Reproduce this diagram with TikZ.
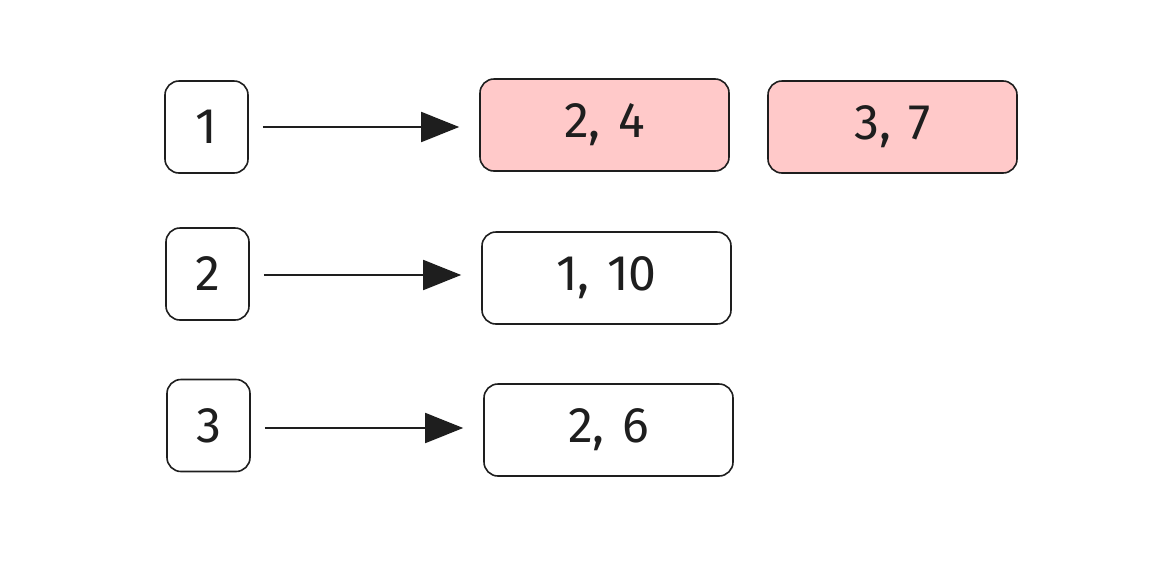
\documentclass[tikz,border=0pt]{standalone}
\usepackage{fontspec}
\setmainfont{Fira Sans}
\usetikzlibrary{arrows.meta}
\definecolor{ink}{HTML}{1E1E1E}
\definecolor{pinkfill}{HTML}{FFC9C9}
\tikzset{
  box/.style={draw=ink, line width=1.6pt, rounded corners=14pt, text=ink, inner sep=0pt,
    font=\fontsize{50}{54}\selectfont},
  keybox/.style={box, minimum width=83pt, minimum height=92pt},
  valbox/.style={box, minimum width=249pt, minimum height=92pt},
  hl/.style={fill=pinkfill},
  arr/.style={draw=ink, line width=1.8pt, -{Triangle[length=38pt,width=30pt]}, shorten <=14pt, shorten >=20pt}
}
\newcommand{\gap}{\hspace{0.35em}}
\begin{document}
\begin{tikzpicture}[x=1pt,y=-1pt]
\useasboundingbox (0,0) rectangle (1172,563);
\node[keybox] (k1) at (206.5,127) {1};
\node[keybox] (k2) at (207.5,274) {2};
\node[keybox] (k3) at (208.5,425.5) {3};
\node[valbox,hl] (v1) at (604.5,125) {2,\gap 4};
\node[valbox,hl] (v1b) at (892.5,127) {3,\gap 7};
\node[valbox] (v2) at (606.5,278) {1,\gap 10};
\node[valbox] (v3) at (608.5,430) {2,\gap 6};
\draw[arr] (k1.east) -- (v1.west |- k1.east);
\draw[arr] ([yshift=-1pt]k2.east) -- ([yshift=-1pt]v2.west |- k2.east);
\draw[arr] ([yshift=-2.5pt]k3.east) -- ([yshift=-2.5pt]v3.west |- k3.east);
\end{tikzpicture}
\end{document}
